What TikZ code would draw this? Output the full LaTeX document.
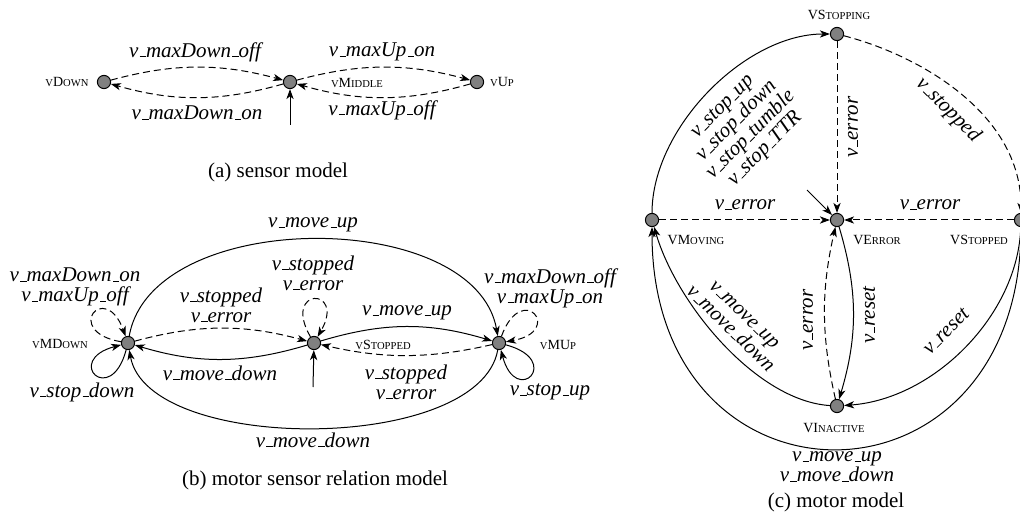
\documentclass[tikz,border=0pt]{standalone}
\usepackage{fontspec}
\setmainfont{Liberation Serif}
\usetikzlibrary{arrows.meta}
\newcommand\smc[1]{{\fontsize{5.3}{6}\selectfont\uppercase{#1}}}
\newcommand\us{\leavevmode\kern.06em\vbox{\hrule width.3em}}
\begin{document}
\begin{tikzpicture}[x=0.5pt,y=-0.5pt,
 st/.style={circle,draw,fill=gray,minimum size=6.6pt,inner sep=0pt,line width=0.5pt},
 nm/.style={font=\fontsize{7}{8}\selectfont,inner sep=0pt},
 lab/.style={font=\fontsize{10.5}{10}\selectfont\itshape,inner sep=0pt,align=center},
 captxt/.style={font=\fontsize{10.5}{12}\selectfont,inner sep=0pt},
 tr/.style={-{Stealth[length=5pt,width=3.6pt,inset=1.4pt]},line width=0.5pt},
 dtr/.style={tr,dash pattern=on 3.5pt off 2pt},
]
\useasboundingbox (0,0) rectangle (1020,523);
% ---------------- (a)
\node[st] (sD) at (104,82) {};
\node[st] (sM) at (290,82) {};
\node[st] (sU) at (477,82) {};
\node[nm] (sDl) at (67,82) {\smc{v}D\smc{own}};
\node[nm] (sMl) at (357,83) {\smc{v}M\smc{iddle}};
\node[nm] (sUl) at (502,82) {\smc{v}U\smc{p}};
\coordinate (sI) at (290,125);
\draw[tr] (sI) -- (sM);
\draw[dtr] (sD) .. controls +(70,-19) and +(-70,-19) .. (sM);
\draw[dtr] (sM) .. controls +(-70,20) and +(70,20) .. (sD);
\draw[dtr] (sM) .. controls +(70,-19) and +(-70,-19) .. (sU);
\draw[dtr] (sU) .. controls +(-70,20) and +(70,20) .. (sM);
\node[lab] (la1) at (195,52) {v\us maxDown\us off};
\node[lab] (la2) at (197,113) {v\us maxDown\us on};
\node[lab] (la3) at (382,52) {v\us maxUp\us on};
\node[lab] (la4) at (382,110) {v\us maxUp\us off};
\node[captxt] (ca) at (278,172) {(a) sensor model};
% ---------------- (b)
\node[st] (bM) at (128,343) {};
\node[st] (bS) at (314,343) {};
\node[st] (bU) at (499,343) {};
\node[nm] (bMl) at (60,344) {\smc{v}MD\smc{own}};
\node[nm] (bSl) at (383,345) {\smc{v}S\smc{topped}};
\node[nm] (bUl) at (558,345) {\smc{v}MU\smc{p}};
\coordinate (bI) at (313,387);
\draw[tr] (bI) -- (bS);
\draw[tr] (bM) .. controls +(24,-136) and +(-24,-136) .. (bU);
\draw[tr] (bU) .. controls +(-20,111) and +(20,111) .. (bM);
\draw[dtr] (bM) .. controls +(70,-19) and +(-70,-19) .. (bS);
\draw[tr] (bS) .. controls +(-70,21) and +(70,21) .. (bM);
\draw[tr] (bS) .. controls +(70,-21) and +(-70,-21) .. (bU);
\draw[dtr] (bU) .. controls +(-70,16) and +(70,16) .. (bS);
\draw[dtr] (bM.170) .. controls +(-170:60) and +(-110:60) .. (bM.110);
\draw[tr] (bM.255) .. controls +(-255:60) and +(-195:60) .. (bM.195);
\draw[dtr] (bU.70) .. controls +(-70:60) and +(-10:60) .. (bU.10);
\draw[tr] (bU.-15) .. controls +(15:60) and +(75:60) .. (bU.-75);
\draw[dtr] (bS.120) .. controls +(-120:58) and +(-60:58) .. (bS.60);
\node[lab] (lb1) at (313,225) {v\us move\us up};
\node[lab] (lb2) at (313,440) {v\us move\us down};
\node[lab] (lb3) at (221,305) {v\us stopped\\v\us error};
\node[lab] (lb4) at (220,373) {v\us move\us down};
\node[lab] (lb5) at (407,313) {v\us move\us up};
\node[lab] (lb6) at (406,382) {v\us stopped\\v\us error};
\node[lab] (lb7) at (313,273) {v\us stopped\\v\us error};
\node[lab] (lb8) at (75,287) {v\us maxDown\us on\\v\us maxUp\us off};
\node[lab] (lb9) at (82,392) {v\us stop\us down};
\node[lab] (lb10) at (550,288) {v\us maxDown\us off\\v\us maxUp\us on};
\node[lab] (lb11) at (550,392) {v\us stop\us up};
\node[captxt] (cb) at (315,480) {(b) motor sensor relation model};
% ---------------- (c)
\node[st] (cSg) at (837,34) {};
\node[st] (cMv) at (652,220) {};
\node[st] (cEr) at (837,220) {};
\node[st] (cSd) at (1021,220) {};
\node[st] (cIn) at (837,406) {};
\node[nm] (cSgl) at (839,15) {VS\smc{topping}};
\node[nm] (cMvl) at (696,240) {VM\smc{oving}};
\node[nm] (cErl) at (877,240) {VE\smc{rror}};
\node[nm] (cSdl) at (979,240) {VS\smc{topped}};
\node[nm] (cInl) at (834,428) {VI\smc{nactive}};
\coordinate (cI) at (807,190);
\draw[tr] (cI) -- (cEr);
\draw[tr] (cMv) .. controls +(0,-92) and +(-92,0) .. (cSg);
\draw[dtr] (cSg) .. controls +(85,22) and +(0,-105) .. (cSd);
\draw[dtr] (cSg) -- (cEr);
\draw[dtr] (cMv) -- (cEr);
\draw[dtr] (cSd) -- (cEr);
\draw[tr] (cEr) .. controls +(21,70) and +(21,-70) .. (cIn);
\draw[dtr] (cIn) .. controls +(-16,-70) and +(-16,70) .. (cEr);
\draw[tr] (cSd) .. controls +(-3,95) and +(97,-7) .. (cIn);
\draw[tr] (cIn) .. controls +(-80,-5) and +(25,85) .. (cMv);
\draw[tr] (cSd) .. controls +(0,303) and +(0,303) .. (cMv);
\node[lab,rotate=45] (lc1) at (744.5,128.5) {v\us stop\us up\\v\us stop\us down\\v\us stop\us tumble\\v\us stop\us TTR};
\node[lab,rotate=90] (lc2) at (853,127) {v\us error};
\node[lab,rotate=-45] (lc3) at (948,110) {v\us stopped};
\node[lab] (lc4) at (745,205) {v\us error};
\node[lab] (lc5) at (930,205) {v\us error};
\node[lab,rotate=90] (lc6) at (869,315) {v\us reset};
\node[lab,rotate=90] (lc7) at (808,320) {v\us error};
\node[lab,rotate=45] (lc8) at (946,331) {v\us reset};
\node[lab,rotate=-44] (lc9) at (737,322) {v\us move\us up\\v\us move\us down};
\node[lab] (lc10) at (837,467) {v\us move\us up\\v\us move\us down};
\node[captxt] (cc) at (836,502) {(c) motor model};
\end{tikzpicture}
\end{document}
